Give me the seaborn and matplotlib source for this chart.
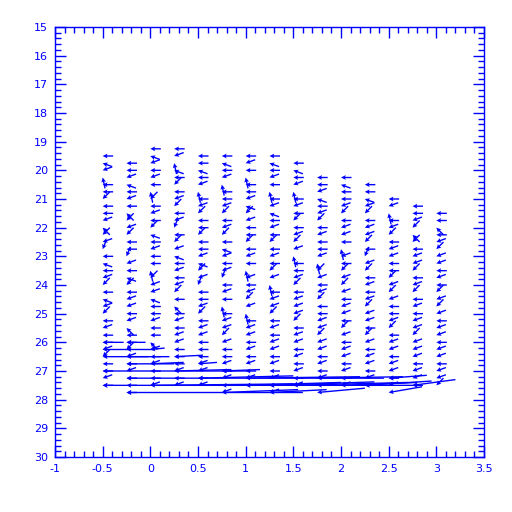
import numpy as np
import pandas as pd
import matplotlib
matplotlib.use("Agg")
import matplotlib.pyplot as plt
from matplotlib.ticker import MultipleLocator
import seaborn as sns

# ---- data ----
col_x = [-0.5, -0.25, 0.0, 0.25, 0.5, 0.75, 1.0, 1.25, 1.5, 1.75, 2.0, 2.25, 2.5, 2.75, 3.0]
col_top = [19.5, 19.75, 19.25, 19.25, 19.5, 19.5, 19.5, 19.5, 19.75, 20.25, 20.25, 20.5, 21.0, 21.25, 21.5]
# one direction code per grid row (top -> bottom), 0.25 apart
col_codes = [
    "acbea" "agaab" "kgbda" "cabga" "cbgab" "aabga" "aba",
    "aabca" "bakgb" "gaadb" "acgab" "babka" "agbab" "aaa",
    "acbab" "aegab" "agcab" "aaegb" "bcaab" "aakba" "baab",
    "abeca" "gabga" "bdagb" "cabab" "gakab" "abbaa" "abab",
    "aacab" "eabga" "agaab" "cgbda" "abgab" "baaab" "bab",
    "acabe" "aabga" "bgacb" "abdab" "aeabb" "gbaab" "abab",
    "abaea" "abcgb" "aagab" "aebab" "gbeab" "babab" "aba",
    "acaba" "eabca" "bagab" "agbea" "bbgab" "abbab" "abab",
    "acabe" "abaga" "bgbea" "abgab" "bbgab" "babab" "ab",
    "aabca" "bgaba" "abegb" "abgaa" "bbgbb" "ababa",
    "acaab" "gabba" "ebagb" "gbabb" "agbab" "babab",
    "aacbg" "abbga" "dbgab" "abgbb" "agbab" "baba",
    "abeab" "gabba" "agbgb" "aabga" "bbabb" "ab",
    "aabgk" "gabbg" "abgab" "abbgb" "bbabb" "a",
    "aakab" "gbbab" "agbgb" "abbab" "babbg",
]
code_u = {"a": -0.11, "b": -0.1, "c": -0.1, "d": -0.04, "e": -0.025, "g": -0.075, "k": -0.075, "f": 0.1}
code_v = {"a": 0.0, "b": 0.12, "c": -0.12, "d": 0.33, "e": -0.38, "g": 0.25, "k": -0.25, "f": 0.0}

# long westward vectors near the bottom rows
long_x = [-0.5, -0.25, -0.5, -0.25, 0.0, -0.5, -0.25, 0.25, -0.25, 0.0, 0.5,
          -0.5, 0.25, 0.75, -0.25, 1.0, 1.75, 2.5, -0.5, 0.0, 1.0, 1.5, 2.0,
          -0.25, 0.75, 1.25, 0.5, 1.25, 2.25, 2.75, 1.75, 2.5]
long_y = [26.0, 26.0, 26.25, 26.25, 26.25, 26.5, 26.5, 26.5, 26.75, 26.75, 26.75,
          27.0, 27.0, 27.0, 27.25, 27.25, 27.25, 27.25, 27.5, 27.5, 27.5, 27.5, 27.5,
          27.75, 27.75, 27.75, 27.25, 27.5, 27.5, 27.5, 27.75, 27.75]
long_u = [-0.22, -0.2, -0.27, -0.28, -0.15, -0.48, -0.45, -0.3, -0.5, -0.35, -0.2,
          -1.55, -0.6, -0.4, -2.7, -1.2, -0.9, -0.4, -3.35, -1.5, -1.0, -1.2, -0.8,
          -1.85, -0.8, -0.6, -1.0, -1.1, -0.7, -0.45, -0.5, -0.35]
long_v = [0.0, 0.0, 0.0, 0.0, 0.05, 0.0, 0.0, 0.05, 0.0, 0.05, 0.05,
          0.0, 0.05, 0.05, 0.0, 0.05, 0.05, 0.1, 0.0, 0.05, 0.1, 0.1, 0.1,
          0.0, 0.1, 0.1, 0.08, 0.12, 0.15, 0.2, 0.15, 0.2]

# ---- build table ----
rows = []
for x, top, codes in zip(col_x, col_top, col_codes):
    for i, c in enumerate(codes):
        rows.append((x, top + 0.25 * i, code_u[c], code_v[c]))
for x, y, u, v in zip(long_x, long_y, long_u, long_v):
    rows.append((x, y, u, v))
df = pd.DataFrame(rows, columns=["x", "y", "u", "v"])

# ---- draw ----
sns.set_style("ticks")
plt.rcParams["font.family"] = ["DejaVu Sans"]
blue = "#0000ff"

fig = plt.figure(figsize=(5.12, 5.12), dpi=100)
ax = fig.add_axes([55 / 512, 1 - 457 / 512, 429 / 512, 430 / 512])
ax.set_xlim(-1, 3.5)
ax.set_ylim(30, 15)

ax.quiver(df["x"], df["y"], df["u"], df["v"], angles="xy", scale_units="xy", scale=1,
          pivot="tip", color=blue, width=0.0032, headwidth=3.5, headlength=3.5,
          headaxislength=3.0, minshaft=0.5, minlength=0.5)

ax.xaxis.set_major_locator(MultipleLocator(0.5))
ax.xaxis.set_minor_locator(MultipleLocator(0.1))
ax.yaxis.set_major_locator(MultipleLocator(1))
ax.yaxis.set_minor_locator(MultipleLocator(0.2))
ax.set_xticks(np.arange(-1, 3.51, 0.5))
ax.set_xticklabels(["-1", "-0.5", "0", "0.5", "1", "1.5", "2", "2.5", "3", "3.5"])
ax.set_yticks(np.arange(15, 30.1, 1))
ax.set_yticklabels([str(v) for v in range(15, 31)])

ax.tick_params(which="both", direction="in", top=True, right=True, colors=blue,
               labelcolor=blue, width=1)
ax.tick_params(which="major", length=8, labelsize=8, pad=5)
ax.tick_params(which="minor", length=4)
for s in ax.spines.values():
    s.set_color(blue)
    s.set_linewidth(1)
ax.set_xlabel("")
ax.set_ylabel("")

fig.savefig("out.png", dpi=100, facecolor="white")
